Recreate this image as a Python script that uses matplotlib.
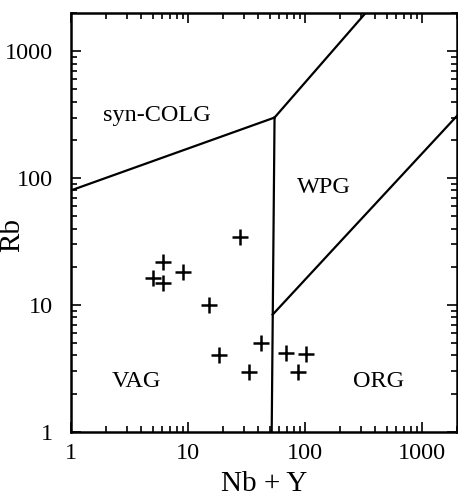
import matplotlib
matplotlib.use("Agg")
import matplotlib.pyplot as plt
from matplotlib.ticker import LogLocator, FixedLocator, NullFormatter

# sample points (Nb + Y, Rb)
nby = [27.9, 6.1, 5.0, 6.1, 9.1, 15.1, 18.5, 33.4, 42.3, 69.4, 87.9, 103]
rb = [34.6, 22.0, 16.4, 15.0, 18.3, 10.0, 4.05, 2.98, 5.0, 4.2, 2.98, 4.1]

# field boundaries (Pearce-type discrimination diagram)
colg_vag_x = [1, 55]
colg_vag_y = [80, 300]
vag_wpg_x = [52, 55]
vag_wpg_y = [1, 300]
colg_wpg_x = [55, 330]
colg_wpg_y = [300, 2000]
wpg_org_x = [53, 2000]
wpg_org_y = [8.4, 310]

fields = ["syn-COLG", "WPG", "VAG", "ORG"]
field_x = [5.4, 145, 3.65, 430]
field_y = [312, 84, 2.5, 2.5]

plt.rcParams["font.family"] = ["Liberation Serif", "DejaVu Serif"]

fig = plt.figure(figsize=(4.58, 5.01), dpi=100)
ax = fig.add_axes([0.155, 0.138, 0.843, 0.836])
ax.set_xscale("log")
ax.set_yscale("log")
ax.set_xlim(1, 2000)
ax.set_ylim(1, 2000)

for xs, ys in [(colg_vag_x, colg_vag_y), (vag_wpg_x, vag_wpg_y),
               (colg_wpg_x, colg_wpg_y), (wpg_org_x, wpg_org_y)]:
    ax.plot(xs, ys, color="black", lw=1.6)

ax.plot(nby, rb, ls="none", marker="+", ms=11, mew=1.8, color="black")

for name, x, y in zip(fields, field_x, field_y):
    ax.text(x, y, name, fontsize=17.5, ha="center", va="center")

ax.xaxis.set_major_locator(FixedLocator([1, 10, 100, 1000]))
ax.yaxis.set_major_locator(FixedLocator([1, 10, 100, 1000]))
ax.xaxis.set_minor_locator(LogLocator(base=10, subs=range(2, 10)))
ax.yaxis.set_minor_locator(LogLocator(base=10, subs=range(2, 10)))
ax.xaxis.set_minor_formatter(NullFormatter())
ax.yaxis.set_minor_formatter(NullFormatter())
ax.set_xticklabels(["1", "10", "100", "1000"])
ax.set_yticklabels(["1", "10", "100", "1000"])

ax.tick_params(which="both", direction="in", top=True, right=True,
               labelsize=17.5, width=1.2)
ax.tick_params(axis="y", which="major", length=7, pad=13)
ax.tick_params(axis="x", which="major", length=7, pad=8)
ax.tick_params(which="minor", length=4)
for s in ax.spines.values():
    s.set_linewidth(1.8)

ax.set_xlabel("Nb + Y", fontsize=21)
ax.set_ylabel("Rb", fontsize=21)
ax.xaxis.set_label_coords(0.5, -0.093)
ax.yaxis.set_label_coords(-0.118, 0.47)

fig.savefig("out.png", dpi=100)
